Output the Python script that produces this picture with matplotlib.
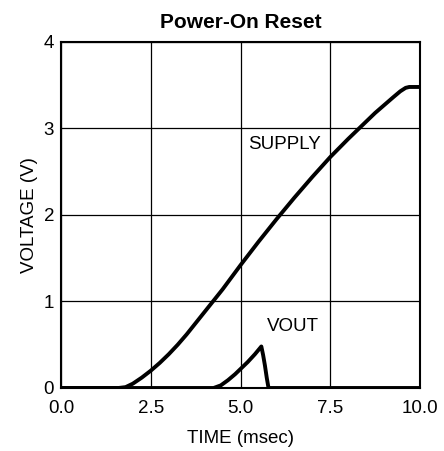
import matplotlib
matplotlib.use("Agg")
import matplotlib.pyplot as plt

plt.rcParams['font.family'] = ['Liberation Sans', 'DejaVu Sans']

title = "Power-On Reset"
xlabel = "TIME (msec)"
ylabel = "VOLTAGE (V)"

supply_t = [0.0, 1.6, 1.8, 2.0, 2.25, 2.5, 2.75, 3.0, 3.25, 3.5, 3.75, 4.0, 4.25, 4.5,
            5.0, 5.5, 6.0, 6.5, 7.0, 7.5, 8.0, 8.25, 8.5, 8.75, 9.0, 9.25, 9.45, 9.6, 9.7, 9.8, 10.0]
supply_v = [0.0, 0.0, 0.01, 0.05, 0.12, 0.2, 0.29, 0.39, 0.5, 0.62, 0.75, 0.88, 1.01, 1.14,
            1.42, 1.69, 1.95, 2.2, 2.44, 2.67, 2.88, 2.98, 3.08, 3.18, 3.27, 3.36, 3.43, 3.47, 3.48, 3.48, 3.48]

vout_t = [0.0, 4.25, 4.45, 4.65, 4.85, 5.0, 5.2, 5.4, 5.58, 5.63, 5.68, 5.73, 5.78, 10.0]
vout_v = [0.0, 0.0, 0.03, 0.09, 0.16, 0.22, 0.3, 0.39, 0.48, 0.38, 0.26, 0.12, 0.0, 0.0]

xticks = [0.0, 2.5, 5.0, 7.5, 10.0]
xticklabels = ["0.0", "2.5", "5.0", "7.5", "10.0"]
yticks = [0, 1, 2, 3, 4]
yticklabels = ["0", "1", "2", "3", "4"]

fig = plt.figure(figsize=(4.44, 4.51), dpi=100)
ax = fig.add_axes([0.1374, 0.1397, 0.8086, 0.7672])

ax.plot(supply_t, supply_v, color='black', lw=2.8, solid_capstyle='round', solid_joinstyle='round', zorder=3)
ax.plot(vout_t, vout_v, color='black', lw=2.8, solid_capstyle='round', solid_joinstyle='round', zorder=3)

ax.set_xlim(0, 10)
ax.set_ylim(0, 4)
ax.set_xticks(xticks)
ax.set_xticklabels(xticklabels)
ax.set_yticks(yticks)
ax.set_yticklabels(yticklabels)
ax.tick_params(length=0, labelsize=13.5)
ax.tick_params(axis='x', pad=9)
ax.tick_params(axis='y', pad=5)
ax.grid(True, color='black', lw=0.9)
for s in ax.spines.values():
    s.set_linewidth(1.5)
    s.set_color('black')

ax.text(5.21, 2.82, "SUPPLY", fontsize=13.5, va='center', ha='left')
ax.text(5.73, 0.71, "VOUT", fontsize=13.5, va='center', ha='left')

ax.set_xlabel(xlabel, fontsize=13.5, labelpad=9)
ax.set_ylabel(ylabel, fontsize=13.5, labelpad=4)
ax.set_title(title, fontsize=15, fontweight='bold', pad=10)

fig.savefig("out.png", dpi=100)
